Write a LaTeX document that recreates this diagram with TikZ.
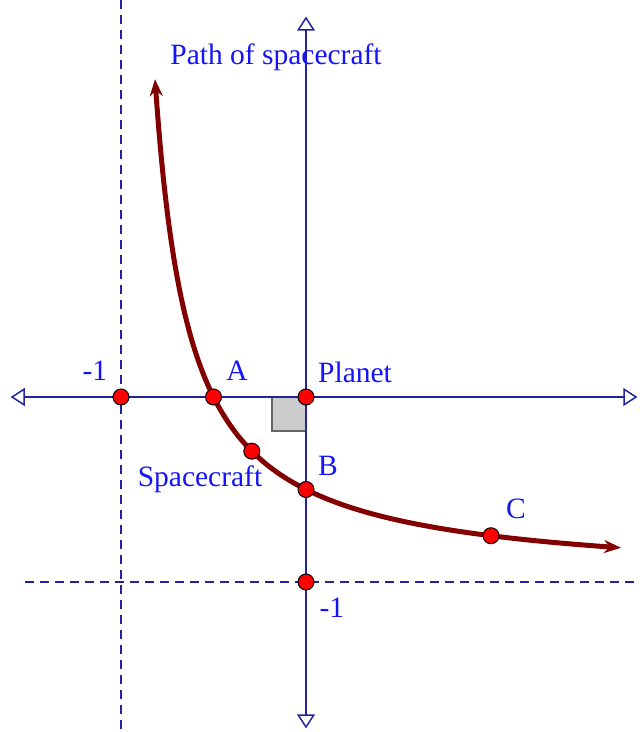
\documentclass[tikz,border=0pt]{standalone}
\usepackage{fontspec}
\setmainfont{Liberation Serif}
\usetikzlibrary{arrows.meta}
\definecolor{axisblue}{RGB}{35,35,160}
\definecolor{lblblue}{RGB}{20,20,245}
\definecolor{curvered}{RGB}{130,0,0}
\tikzset{
  axis/.style={draw=axisblue, line width=1.6pt},
  asym/.style={draw=axisblue, line width=1.5pt, dash pattern=on 9pt off 6pt},
  tri/.style={draw=axisblue, line width=1.5pt, fill=white},
  pt/.style={circle, fill=red, draw=black, line width=1pt, minimum size=16pt, inner sep=0pt},
  lbl/.style={text=lblblue, font=\fontsize{29.5}{32}\selectfont, inner sep=0pt},
  curve/.style={draw=curvered, line width=5pt, {Stealth[length=17pt,width=13pt]}-{Stealth[length=17pt,width=13pt]}}
}
\begin{document}
\begin{tikzpicture}[x=185pt,y=185pt]
\useasboundingbox (-1.6541,-1.8108) rectangle (1.8,2.1459);
% asymptotes
\draw[asym] (-1,2.1459) -- (-1,-1.8108);
\draw[asym] (-1.519,-1) -- (1.8,-1);
% axes
\coordinate (xl) at (-1.589,0);
\coordinate (xr) at (1.784,0);
\coordinate (yt) at (0,2.049);
\coordinate (yb) at (0,-1.784);
\draw[axis] (xl) -- (xr);
\draw[axis] (yb) -- (yt);
% open triangle heads
\draw[tri] (xl) -- ++(0.065,0.042) -- ++(0,-0.084) -- cycle;
\draw[tri] (xr) -- ++(-0.065,0.042) -- ++(0,-0.084) -- cycle;
\draw[tri] (yt) -- ++(0.042,-0.065) -- ++(-0.084,0) -- cycle;
\draw[tri] (yb) -- ++(0.042,0.065) -- ++(-0.084,0) -- cycle;
% right angle mark
\draw[fill=black!20, draw=black!60, line width=1.2pt] (-0.184,0) rectangle (0,-0.184);
\draw[axis] (0,0) -- (0,-0.3);
\draw[axis] (-0.3,0) -- (0.3,0);
% curve
\draw[curve] plot[domain=-1.693:0.996, samples=200, variable=\t] ({exp(\t)-1},{0.5*exp(-\t)-1});
% points
\node[pt] (m1x) at (-1,0) {};
\node[pt] (A) at (-0.5,0) {};
\node[pt] (O) at (0,0) {};
\node[pt] (S) at (-0.2929,-0.2929) {};
\node[pt] (B) at (0,-0.5) {};
\node[pt] (C) at (1,-0.75) {};
\node[pt] (m1y) at (0,-1) {};
% labels
\node[lbl] (l1) at (-1.141,0.14) {-1};
\node[lbl] (lA) at (-0.373,0.14) {A};
\node[lbl] (lP) at (0.265,0.135) {Planet};
\node[lbl] (lB) at (0.119,-0.37) {B};
\node[lbl] (lC) at (1.135,-0.605) {C};
\node[lbl] (lS) at (-0.573,-0.443) {Spacecraft};
\node[lbl] (l2) at (0.14,-1.14) {-1};
\node[lbl] (lT) at (-0.162,1.835) {Path of spacecraft};
\end{tikzpicture}
\end{document}
